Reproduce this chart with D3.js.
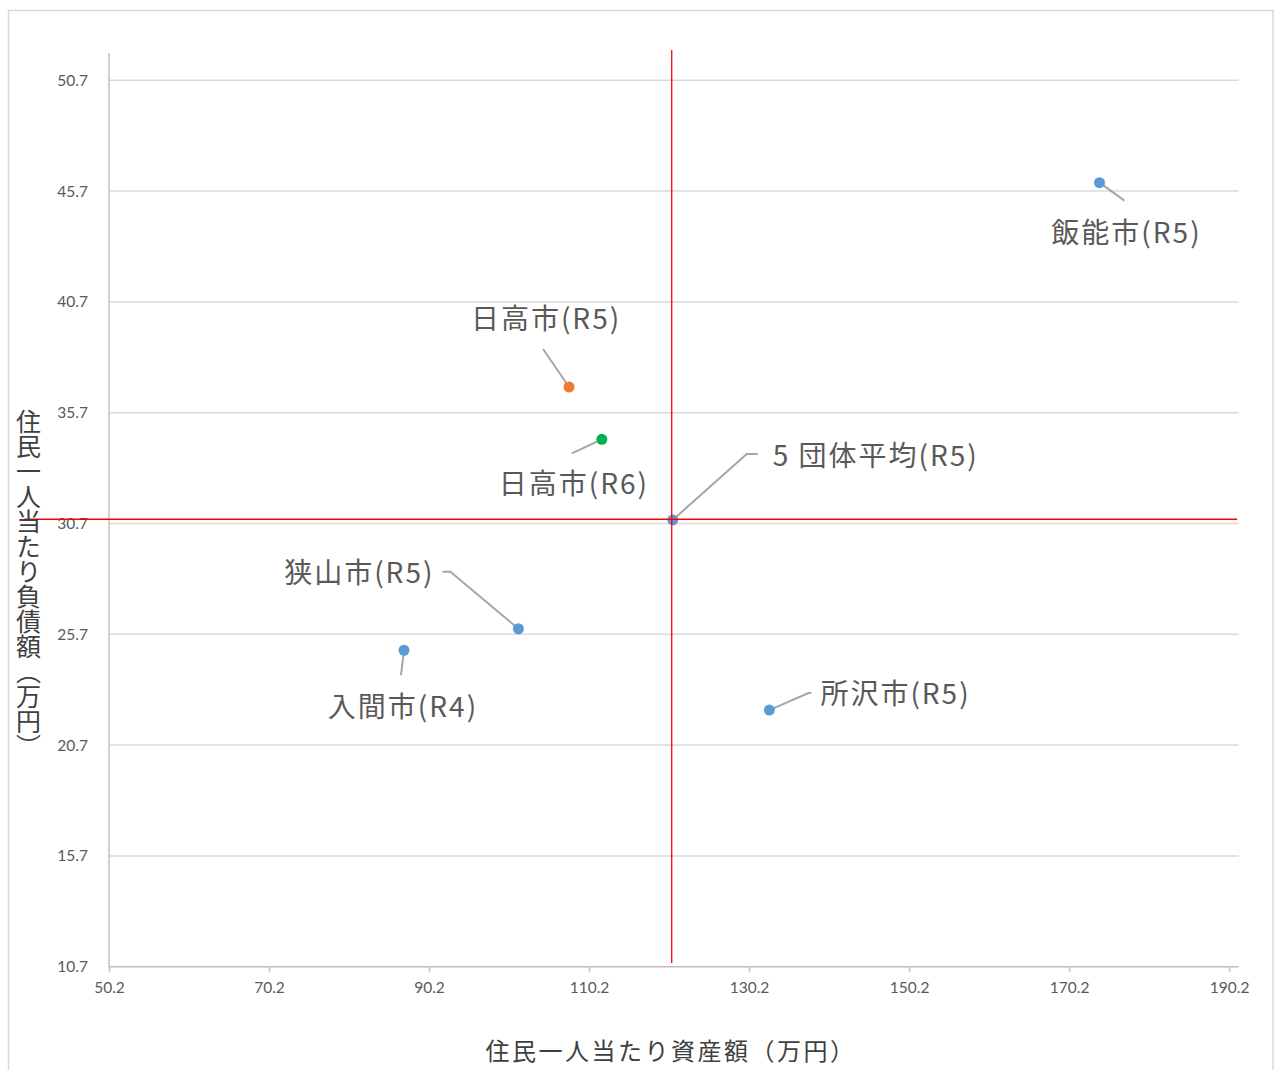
<!DOCTYPE html>
<html>
<head>
<meta charset="utf-8">
<script src="https://cdn.jsdelivr.net/npm/d3@7/dist/d3.min.js"></script>
<style>
  html, body { margin: 0; padding: 0; background: #fff; }
  svg { display: block; }
</style>
</head>
<body>
<script>
// Per-resident assets (x, 万円) and liabilities (y, 万円) for each municipality
const names   = ["飯能市(R5)", "日高市(R5)", "日高市(R6)", "5 団体平均(R5)", "狭山市(R5)", "入間市(R4)", "所沢市(R5)"];
const assets  = [174.0, 107.7, 111.8, 120.66, 101.37, 87.07, 132.74];
const debts   = [46.08, 36.86, 34.5, 30.86, 25.95, 24.98, 22.28];
const groups  = ["other", "hidakaR5", "hidakaR6", "avg", "other", "other", "other"];

// Axis ticks
const xTicks = [50.2, 70.2, 90.2, 110.2, 130.2, 150.2, 170.2, 190.2];
const yTicks = [10.7, 15.7, 20.7, 25.7, 30.7, 35.7, 40.7, 45.7, 50.7];

// Reference cross-hair through the 5-group average
const avgIndex = 3;
const crossYExtent = [10.87, 52.07];
const crossXExtent = [39.6, 191.2];

// Axis titles
const xTitle = "住民一人当たり資産額（万円）";
const yTitle = "住民一人当たり負債額（万円）";

// ---- layout ----
const W = 1276, H = 1070;
const plot = { left: 109, right: 1238.7, top: 53, bottom: 966.7 };

const colors = { other: "#5b9bd5", hidakaR5: "#ed7d31", hidakaR6: "#00b050", avg: "#5b9bd5" };

// Label anchor offsets (px, relative to the point) and leader line bend points
const labelLayout = [
  { dx: 26,  dy: 60,  anchor: "middle", leader: [[0, 0], [25, 18]] },
  { dx: -24, dy: -58, anchor: "middle", leader: [[0, 0], [-26, -38]] },
  { dx: -29, dy: 55,  anchor: "middle", leader: [[0, 0], [-30, 14]] },
  { dx: 100, dy: -54, anchor: "start",  leader: [[0, 0], [74, -66], [85, -66]] },
  { dx: -84, dy: -46, anchor: "end",    leader: [[0, 0], [-68, -57], [-76, -57]] },
  { dx: -2,  dy: 67,  anchor: "middle", leader: [[0, 0], [-3, 25]] },
  { dx: 51,  dy: -6,  anchor: "start",  leader: [[0, 0], [39, -17], [42, -17]] }
];

const svg = d3.select("body").append("svg").attr("width", W).attr("height", H);

// chart frame
svg.append("rect")
  .attr("x", 8.5).attr("y", 10.5).attr("width", 1264.5).attr("height", 1070)
  .attr("fill", "#fff").attr("stroke", "#d9d9d9").attr("stroke-width", 1.5);

const x = d3.scaleLinear().domain([50.2, 191.4]).range([plot.left, plot.right]);
const y = d3.scaleLinear().domain([10.7, 50.7]).range([plot.bottom, 80.3]);

// horizontal gridlines
svg.append("g")
  .selectAll("line").data(yTicks.slice(1)).join("line")
  .attr("x1", plot.left).attr("x2", plot.right)
  .attr("y1", d => y(d)).attr("y2", d => y(d))
  .attr("stroke", "#d9d9d9").attr("stroke-width", 1.5);

const tickFont = "Lato, 'Open Sans', sans-serif";

// y axis
const yAxis = svg.append("g").attr("transform", `translate(${plot.left},0)`)
  .call(d3.axisLeft(y).tickValues(yTicks).tickFormat(d3.format(".1f")).tickSize(0).tickPadding(21));
yAxis.select(".domain").remove();
yAxis.append("line").attr("x1", 0).attr("x2", 0).attr("y1", plot.top).attr("y2", plot.bottom)
  .attr("stroke", "#bfbfbf").attr("stroke-width", 1.5);
yAxis.selectAll(".tick text")
  .attr("fill", "#595959").attr("font-size", 15.5).attr("font-family", tickFont);

// x axis
const xAxis = svg.append("g").attr("transform", `translate(0,${plot.bottom})`)
  .call(d3.axisBottom(x).tickValues(xTicks).tickFormat(d3.format(".1f")).tickSize(5).tickPadding(10));
xAxis.select(".domain").remove();
xAxis.append("line").attr("x1", plot.left).attr("x2", plot.right).attr("y1", 0).attr("y2", 0)
  .attr("stroke", "#bfbfbf").attr("stroke-width", 1.5);
xAxis.selectAll(".tick line").attr("stroke", "#bfbfbf").attr("stroke-width", 1.5);
xAxis.selectAll(".tick text")
  .attr("fill", "#595959").attr("font-size", 15.5).attr("font-family", tickFont);

// leader lines
const pts = names.map((n, i) => ({ name: n, x: assets[i], y: debts[i], g: groups[i], lay: labelLayout[i] }));
const line = d3.line();
svg.append("g").selectAll("path").data(pts).join("path")
  .attr("d", d => line(d.lay.leader.map(([dx, dy]) => [x(d.x) + dx, y(d.y) + dy])))
  .attr("fill", "none").attr("stroke", "#a6a6a6").attr("stroke-width", 2);

// points
svg.append("g").selectAll("circle").data(pts).join("circle")
  .attr("cx", d => x(d.x)).attr("cy", d => y(d.y)).attr("r", 5.5)
  .attr("fill", d => colors[d.g]);

// average cross-hair
const ax = assets[avgIndex], ay = debts[avgIndex];
svg.append("line")
  .attr("x1", x(ax) - 1).attr("x2", x(ax) - 1)
  .attr("y1", y(crossYExtent[1])).attr("y2", y(crossYExtent[0]))
  .attr("stroke", "#ff0000").attr("stroke-width", 1.3);
svg.append("line")
  .attr("x1", x(crossXExtent[0])).attr("x2", x(crossXExtent[1]))
  .attr("y1", y(ay) - 0.7).attr("y2", y(ay) - 0.7)
  .attr("stroke", "#ff0000").attr("stroke-width", 1.3);

// data labels
svg.append("g").selectAll("text").data(pts).join("text")
  .attr("x", d => x(d.x) + d.lay.dx + (d.lay.anchor === "middle" ? 1 : 0))
  .attr("y", d => y(d.y) + d.lay.dy)
  .attr("text-anchor", d => d.lay.anchor)
  .attr("fill", "#595959").attr("font-size", 28)
  .attr("font-family", "'Noto Sans CJK JP', sans-serif")
  .attr("letter-spacing", 2)
  .text(d => d.name);

// x axis title
svg.append("text")
  .attr("x", 671).attr("y", 1060).attr("text-anchor", "middle")
  .attr("fill", "#404040").attr("font-size", 24).attr("letter-spacing", 2.5)
  .attr("font-family", "'Noto Sans CJK JP', sans-serif")
  .text(xTitle);

// y axis title, written vertically
svg.append("text")
  .attr("x", 28.5).attr("y", 584).attr("text-anchor", "middle")
  .attr("writing-mode", "vertical-rl")
  .attr("fill", "#404040").attr("font-size", 25)
  .attr("font-family", "'Noto Sans CJK JP', sans-serif")
  .text(yTitle);
</script>
</body>
</html>
